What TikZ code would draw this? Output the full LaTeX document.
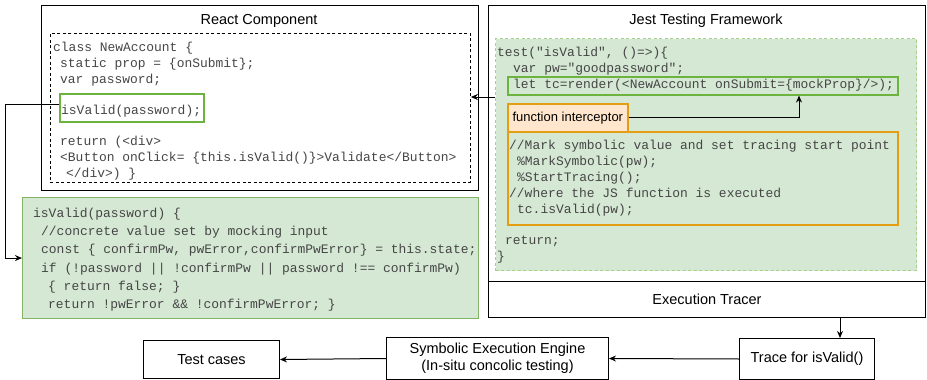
\documentclass[tikz,border=0pt]{standalone}
\usepackage{fontspec}
\setmainfont{Liberation Sans}
\newfontfamily\codefont{Liberation Mono}
\usetikzlibrary{arrows.meta}
\definecolor{gfill}{HTML}{D5E8D4}
\definecolor{gline}{HTML}{82B366}
\definecolor{gdash}{HTML}{A8D08D}
\definecolor{gbright}{HTML}{6DB33F}
\definecolor{ofill}{HTML}{FFE6CC}
\definecolor{oline}{HTML}{E39E14}
\definecolor{codegray}{HTML}{454545}
\newcommand\cl[4]{\node[codetxt] (#1) at (#2,#3) {#4};}
\begin{document}
\begin{tikzpicture}[x=1pt,y=-1pt,
  box/.style={draw=black,line width=1pt,anchor=north west,inner sep=0pt},
  cbox/.style={line width=1.6pt,anchor=north west,inner sep=0pt},
  lbl/.style={font=\fontsize{14.5}{17}\selectfont,inner sep=0pt,align=center},
  codetxt/.style={font=\codefont\fontsize{12.95}{16}\selectfont,text=codegray,anchor=base west,inner sep=0pt},
  arr/.style={draw=black,line width=1pt,-{Stealth[length=7pt,width=6pt]}}]
\useasboundingbox (0,0) rectangle (927,380);
% React component
\node[box,minimum width=437,minimum height=185] (react) at (41,5) {};
\node[lbl] (reacttitle) at (259,21) {React Component};
\node[box,dash pattern=on 3pt off 2.5pt,line width=0.9pt,minimum width=420,minimum height=149] (rdash) at (50,33) {};
\node[cbox,draw=gbright,minimum width=144,minimum height=28] (isv) at (59,93) {};
\cl{r1}{53}{51}{class NewAccount \{}
\cl{r2}{60}{67}{static prop = \{onSubmit\};}
\cl{r3}{60}{83}{var password;}
\cl{r4}{61}{114}{isValid(password);}
\cl{r5}{60}{145}{return (<div>}
\cl{r6}{60}{161}{<Button onClick= \{this.isValid()\}>Validate</Button>}
\cl{r7}{66}{177}{</div>) \}}
% big green code box
\node[cbox,draw=gline,fill=gfill,line width=1.1pt,minimum width=456,minimum height=121] (big) at (22,197) {};
\cl{b1}{33}{217}{isValid(password) \{}
\cl{b2}{41}{235}{//concrete value set by mocking input}
\cl{b3}{41}{253}{const \{ confirmPw, pwError,confirmPwError\} = this.state;}
\cl{b4}{41}{272}{if (!password || !confirmPw || password !== confirmPw)}
\cl{b5}{48}{290}{\{ return false; \}}
\cl{b6}{48}{308}{return !pwError \&\& !confirmPwError; \}}
% Jest
\node[box,minimum width=437,minimum height=276] (jest) at (488,5) {};
\node[lbl] (jesttitle) at (706,21) {Jest Testing Framework};
\node[cbox,dash pattern=on 3pt off 2.5pt,draw=gdash,fill=gfill,line width=1.3pt,minimum width=421,minimum height=232] (jdash) at (495,38) {};
\node[cbox,draw=gbright,minimum width=390,minimum height=18] (render) at (507,76) {};
\node[cbox,draw=oline,minimum width=390,minimum height=93] (obox) at (507,131) {};
\node[cbox,draw=oline,fill=ofill,minimum width=120,minimum height=28] (fi) at (507,103) {};
\node[font=\fontsize{13}{15}\selectfont,inner sep=0pt] (fitxt) at (fi.center) {function interceptor};
\cl{j1}{497}{56}{test("isValid", ()=>)\{}
\cl{j2}{513}{72}{var pw="goodpassword";}
\cl{j3}{513}{88}{let tc=render(<NewAccount onSubmit=\{mockProp\}/>);}
\cl{j4}{509}{149}{//Mark symbolic value and set tracing start point}
\cl{j5}{517}{165}{\%MarkSymbolic(pw);}
\cl{j6}{517}{181}{\%StartTracing();}
\cl{j7}{509}{197}{//where the JS function is executed}
\cl{j8}{517}{213}{tc.isValid(pw);}
\cl{j9}{505}{244}{return;}
\cl{j10}{497}{260}{\}}
% tracer and bottom row
\node[box,minimum width=437,minimum height=36] (tracer) at (488,281) {};
\node[lbl] (tracertxt) at (tracer.center) {Execution Tracer};
\node[box,minimum width=135,minimum height=41,lbl,anchor=north west] (trace) at (739,338) {Trace for isValid()};
\node[box,minimum width=222,minimum height=42,lbl,anchor=north west,align=center] (sym) at (386,337) {Symbolic Execution Engine\\(In-situ concolic testing)};
\node[box,minimum width=136,minimum height=38,lbl,anchor=north west] (tc) at (143,340) {Test cases};
% connectors
\coordinate (ya) at (0,97);
\coordinate (ia) at (799,0);
\coordinate (ta) at (840,0);
\coordinate (la) at (5,0);
\draw[arr] ([yshift=3pt]isv.west) -| (la |- big.west) -- (big.west);
\draw[arr] (jdash.west |- ya) -- (rdash.east |- ya);
\draw[arr] (fi.east) -| (render.south -| ia);
\draw[arr] (tracer.south -| ta) -- (trace.north -| ta);
\draw[arr] (trace.west) -- (sym.east);
\draw[arr] (sym.west) -- (tc.east);
\end{tikzpicture}
\end{document}
